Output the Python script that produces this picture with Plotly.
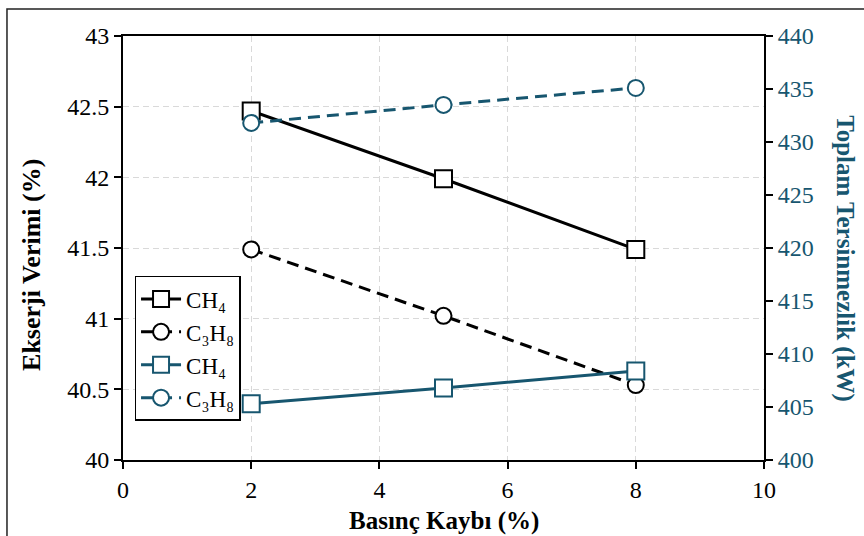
import plotly.graph_objects as go

x_vals = [2, 5, 8]
ch4_exergy = [42.47, 41.99, 41.49]
c3h8_exergy = [41.49, 41.02, 40.53]
ch4_irrev = [405.3, 406.8, 408.4]
c3h8_irrev = [431.8, 433.5, 435.1]

x_ticks = [0, 2, 4, 6, 8, 10]
y_ticks = [40, 40.5, 41, 41.5, 42, 42.5, 43]
y2_ticks = [400, 405, 410, 415, 420, 425, 430, 435, 440]

BLACK = "#000000"
TEAL = "#17566f"
FONT = "Liberation Serif"

fig = go.Figure()
fig.add_trace(go.Scatter(x=x_vals, y=ch4_exergy, name="CH₄", mode="lines+markers",
                         line=dict(color=BLACK, width=3),
                         marker=dict(symbol="square", size=17, color="white", line=dict(color=BLACK, width=2))))
fig.add_trace(go.Scatter(x=x_vals, y=c3h8_exergy, name="C₃H₈", mode="lines+markers",
                         line=dict(color=BLACK, width=3, dash="12px,7px"),
                         marker=dict(symbol="circle", size=16, color="white", line=dict(color=BLACK, width=2))))
fig.add_trace(go.Scatter(x=x_vals, y=ch4_irrev, name="CH₄", mode="lines+markers", yaxis="y2",
                         line=dict(color=TEAL, width=3),
                         marker=dict(symbol="square", size=17, color="white", line=dict(color=TEAL, width=2))))
fig.add_trace(go.Scatter(x=x_vals, y=c3h8_irrev, name="C₃H₈", mode="lines+markers", yaxis="y2",
                         line=dict(color=TEAL, width=3, dash="12px,7px"),
                         marker=dict(symbol="circle", size=16, color="white", line=dict(color=TEAL, width=2))))

fig.update_layout(
    width=864, height=536,
    margin=dict(l=123, r=100, t=36, b=76),
    paper_bgcolor="white", plot_bgcolor="white",
    font=dict(family=FONT, size=22, color=BLACK),
    showlegend=True,
    legend=dict(x=0.018, y=0.434, xanchor="left", yanchor="top",
                bordercolor=BLACK, borderwidth=1.5, bgcolor="white",
                font=dict(family=FONT, size=23, color=BLACK),
                tracegroupgap=0, itemwidth=40),
    xaxis=dict(range=[0, 10], tickvals=x_ticks, showline=True, linecolor=BLACK, linewidth=2,
               mirror=True, ticks="outside", ticklen=7, tickwidth=2, tickcolor=BLACK,
               showgrid=True, gridcolor="#d9d9d9", griddash="6px,4px", gridwidth=1.2,
               zeroline=False, tickfont=dict(family=FONT, size=24)),
    yaxis=dict(range=[40, 43], tickvals=y_ticks, ticktext=[f"{v:g}" for v in y_ticks],
               showline=True, linecolor=BLACK, linewidth=2,
               ticks="outside", ticklen=7, tickwidth=2, tickcolor=BLACK,
               showgrid=True, gridcolor="#d9d9d9", griddash="6px,4px", gridwidth=1.2,
               zeroline=False, tickfont=dict(family=FONT, size=24)),
    yaxis2=dict(range=[400, 440], tickvals=y2_ticks, overlaying="y", side="right",
                showline=True, linecolor=BLACK, linewidth=2,
                ticks="outside", ticklen=7, tickwidth=2, tickcolor=BLACK,
                tickfont=dict(family=FONT, size=24, color=TEAL), showgrid=False, zeroline=False),
    annotations=[
        dict(text="<b>Basınç Kaybı (%)</b>", xref="paper", yref="paper", x=0.5, y=-0.144,
             xanchor="center", yanchor="middle", showarrow=False,
             font=dict(family=FONT, size=25, color=BLACK)),
        dict(text="<b>Ekserji Verimi (%)</b>", textangle=-90, xref="paper", yref="paper",
             x=-0.142, y=0.46, xanchor="center", yanchor="middle", showarrow=False,
             font=dict(family=FONT, size=26, color=BLACK)),
        dict(text="<b>Toplam Tersinmezlik (kW)</b>", textangle=90, xref="paper", yref="paper",
             x=1.126, y=0.474, xanchor="center", yanchor="middle", showarrow=False,
             font=dict(family=FONT, size=25, color=TEAL)),
    ],
    shapes=[dict(type="rect", xref="paper", yref="paper", x0=-0.181, y0=-0.3, x1=1.4, y1=1.0637,
                 line=dict(color="#222222", width=1.5), fillcolor="rgba(0,0,0,0)", layer="below")],
)

fig.write_html("out.html", config={"displayModeBar": False},
               post_script="document.body.style.margin='0px';")
